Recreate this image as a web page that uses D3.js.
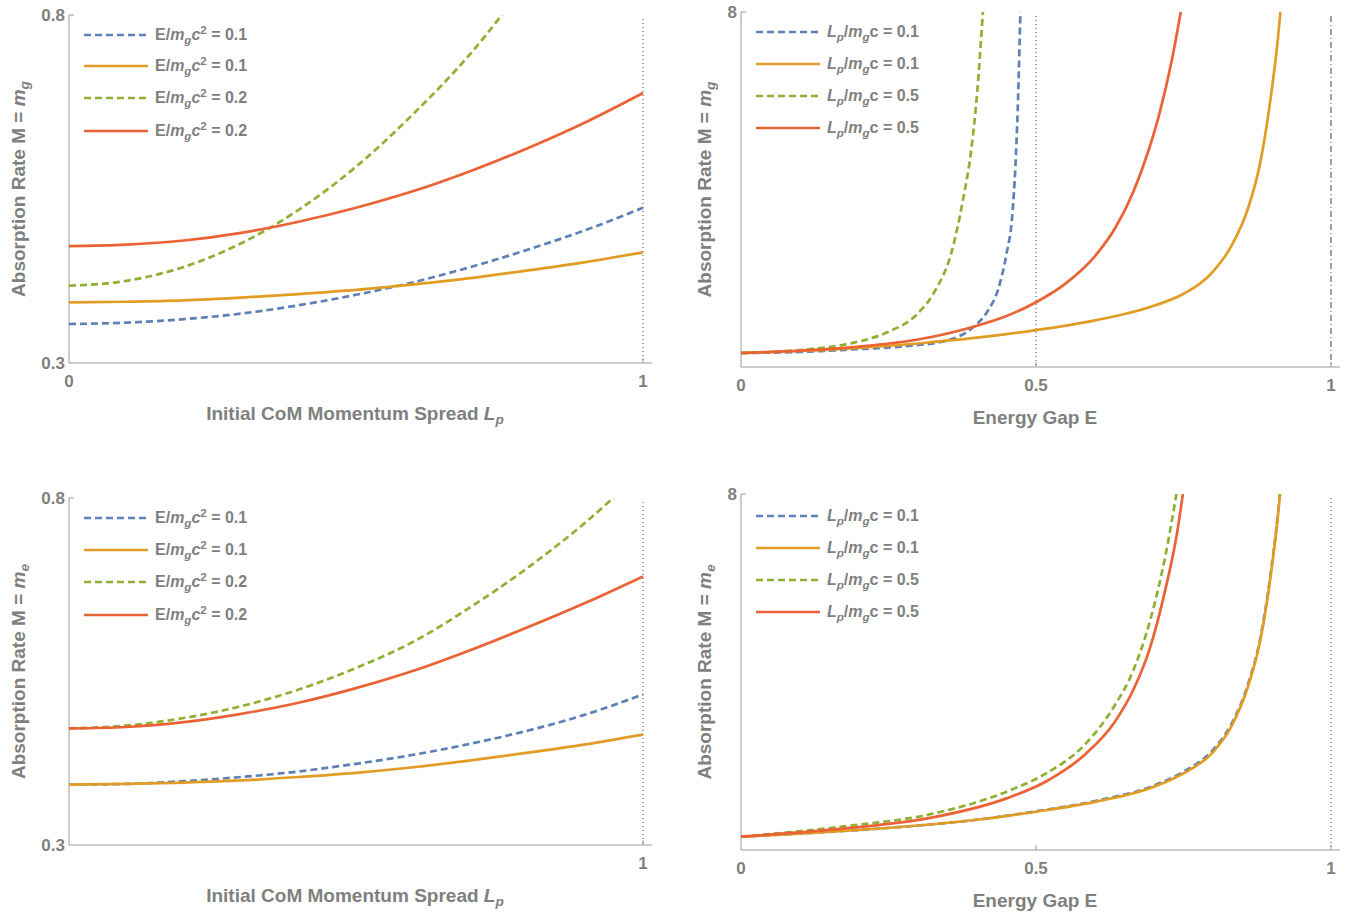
<!DOCTYPE html>
<html>
<head>
<meta charset="utf-8">
<script src="https://cdn.jsdelivr.net/npm/d3@7"></script>
<style>
  body { margin: 0; background: #fff; }
  svg text { font-family: "Liberation Sans", Arial, sans-serif; font-weight: bold; fill: #7f7f7f; }
  .axis-line { stroke: #9a9a9a; stroke-width: 1; fill: none; }
  .series { fill: none; stroke-width: 2.7; stroke-linecap: butt; }
</style>
</head>
<body>
<div id="graph"></div>
<script>
//
// Data
//

// left panels: x = initial CoM momentum spread L_p
var lpX = [0, 0.1, 0.2, 0.3, 0.4, 0.5, 0.6, 0.7, 0.8, 0.9, 1.0];

// top-left, M = m_g
var tlBlue   = [0.356, 0.358, 0.363, 0.371, 0.383, 0.398, 0.416, 0.438, 0.463, 0.491, 0.523];
var tlOrange = [0.387, 0.388, 0.390, 0.394, 0.399, 0.405, 0.413, 0.422, 0.433, 0.445, 0.459];
var tlGreen  = [0.411, 0.418, 0.438, 0.472, 0.520, 0.582, 0.658, 0.745, 0.850];
var tlRed    = [0.468, 0.470, 0.476, 0.487, 0.503, 0.523, 0.547, 0.576, 0.609, 0.646, 0.688];

// bottom-left, M = m_e
var blBlue   = [0.387, 0.388, 0.392, 0.398, 0.406, 0.417, 0.430, 0.446, 0.465, 0.488, 0.517];
var blOrange = [0.387, 0.388, 0.390, 0.393, 0.398, 0.404, 0.412, 0.422, 0.433, 0.445, 0.459];
var blGreen  = [0.468, 0.472, 0.483, 0.500, 0.524, 0.555, 0.593, 0.643, 0.700, 0.765, 0.840];
var blRed    = [0.468, 0.470, 0.477, 0.489, 0.505, 0.526, 0.551, 0.581, 0.614, 0.649, 0.687];

// top-right, M = m_g, x = energy gap E
var trBlueX   = [0, 0.1, 0.18, 0.28, 0.35, 0.39, 0.417, 0.437, 0.45, 0.46, 0.465, 0.469, 0.472, 0.475];
var trBlueY   = [0.315, 0.34, 0.39, 0.47, 0.60, 0.86, 1.24, 1.80, 2.55, 3.45, 4.5, 5.8, 7.2, 8.8];
var trOrangeX = [0, 0.1, 0.2, 0.3, 0.4, 0.5, 0.6, 0.7, 0.75, 0.8, 0.83, 0.86, 0.88, 0.895, 0.91, 0.92];
var trOrangeY = [0.315, 0.36, 0.43, 0.53, 0.66, 0.83, 1.05, 1.38, 1.65, 2.15, 2.7, 3.6, 4.6, 5.8, 7.4, 8.8];
var trGreenX  = [0, 0.114, 0.181, 0.249, 0.296, 0.329, 0.356, 0.376, 0.39, 0.40, 0.41];
var trGreenY  = [0.315, 0.40, 0.52, 0.79, 1.16, 1.72, 2.55, 3.75, 4.87, 6.14, 8.0];
var trRedX    = [0, 0.1, 0.2, 0.3, 0.4, 0.45, 0.5, 0.55, 0.6, 0.635, 0.665, 0.69, 0.71, 0.73, 0.748];
var trRedY    = [0.315, 0.37, 0.46, 0.62, 0.93, 1.15, 1.46, 1.88, 2.5, 3.15, 3.95, 4.85, 5.75, 6.9, 8.2];

// bottom-right, M = m_e
var brLowX    = [0, 0.1, 0.2, 0.3, 0.4, 0.5, 0.6, 0.7, 0.75, 0.8, 0.83, 0.86, 0.88, 0.895, 0.91, 0.92];
var brBlueY   = [0.30, 0.37, 0.45, 0.55, 0.68, 0.87, 1.10, 1.45, 1.76, 2.25, 2.8, 3.75, 4.75, 5.95, 7.55, 8.95];
var brOrangeY = [0.30, 0.37, 0.45, 0.55, 0.68, 0.86, 1.08, 1.42, 1.72, 2.2, 2.75, 3.7, 4.7, 5.9, 7.5, 8.9];
var brGreenX  = [0, 0.181, 0.316, 0.45, 0.517, 0.585, 0.632, 0.665, 0.692, 0.719, 0.738];
var brGreenY  = [0.30, 0.54, 0.79, 1.31, 1.72, 2.40, 3.22, 4.04, 5.09, 6.59, 8.0];
var brRedX    = [0, 0.181, 0.316, 0.45, 0.517, 0.585, 0.632, 0.665, 0.692, 0.719, 0.739, 0.749];
var brRedY    = [0.30, 0.49, 0.71, 1.16, 1.54, 2.17, 2.85, 3.6, 4.49, 5.84, 7.12, 8.0];

var legendE  = ['0.1', '0.1', '0.2', '0.2'];
var legendLp = ['0.1', '0.1', '0.5', '0.5'];

var colors = ['#5E81B5', '#E19C24', '#8FB032', '#EB6235'];
var dashes = ['7,4', null, '7,4', null];

//
// helpers
//
var zip = function (xs, ys)
{
    return ys.map(function (y, i) { return { x: xs[i], y: y }; });
};

// parts: [text, flags] with flags among 'i' (italic), 'sub', 'sup'
var rich = function (sel, parts)
{
    var shift = 0;
    parts.forEach(function (p)
    {
        var t = sel.append('tspan').text(p[0]);
        var want = 0;
        if (p[1].indexOf('sub') >= 0) { want = 4; t.attr('font-size', '0.72em'); }
        if (p[1].indexOf('sup') >= 0) { want = -6; t.attr('font-size', '0.72em'); }
        if (p[1].indexOf('i') >= 0) t.style('font-style', 'italic');
        if (want !== shift) t.attr('dy', want - shift);
        shift = want;
    });
};

var svg = d3.select('#graph').append('svg')
            .attr('width', 1350)
            .attr('height', 913);

var clipId = 0;

var drawPanel = function (p)
{
    var xScale = d3.scaleLinear().domain([0, 1]).range(p.xRange);
    var yScale = d3.scaleLinear().domain(p.yDomain).range(p.yRange);

    var g = svg.append('g');

    // dotted reference lines
    p.vlines.forEach(function (v)
    {
        g.append('line')
         .attr('x1', xScale(v.x)).attr('x2', xScale(v.x))
         .attr('y1', p.yRange[1] + 4).attr('y2', p.yRange[0])
         .attr('stroke', '#444')
         .attr('stroke-width', 1)
         .attr('stroke-dasharray', v.dash);
    });

    // axes
    g.append('line').attr('class', 'axis-line')
     .attr('x1', p.xRange[0]).attr('x2', p.xRange[1] + 9)
     .attr('y1', p.yRange[0]).attr('y2', p.yRange[0]);
    g.append('line').attr('class', 'axis-line')
     .attr('x1', p.xRange[0]).attr('x2', p.xRange[0])
     .attr('y1', p.yRange[0]).attr('y2', p.yRange[1]);
    g.append('line').attr('class', 'axis-line')
     .attr('x1', p.xRange[0]).attr('x2', p.xRange[0] + 5)
     .attr('y1', p.yRange[1]).attr('y2', p.yRange[1]);

    p.xTicks.forEach(function (t)
    {
        g.append('line').attr('class', 'axis-line')
         .attr('x1', xScale(t)).attr('x2', xScale(t))
         .attr('y1', p.yRange[0]).attr('y2', p.yRange[0] - 5);
    });

    p.xLabels.forEach(function (t)
    {
        g.append('text')
         .attr('x', xScale(t)).attr('y', p.yRange[0] + 24)
         .attr('text-anchor', 'middle')
         .style('font-size', '17px')
         .text(String(t));
    });

    p.yLabels.forEach(function (t)
    {
        g.append('text')
         .attr('x', p.xRange[0] - 4).attr('y', yScale(t) + 6)
         .attr('text-anchor', 'end')
         .style('font-size', '17px')
         .text(String(t));
    });

    // axis titles
    rich(g.append('text')
          .attr('x', (p.xRange[0] + p.xRange[1]) / 2 - 1)
          .attr('y', p.yRange[0] + 57)
          .attr('text-anchor', 'middle')
          .style('font-size', '19px'), p.xTitle);

    var cy = (p.yRange[0] + p.yRange[1]) / 2;
    rich(g.append('text')
          .attr('transform', 'translate(' + p.yTitleX + ',' + cy + ') rotate(-90)')
          .attr('text-anchor', 'middle')
          .style('font-size', '19px'), p.yTitle);

    // curves
    var id = 'clip' + (clipId++);
    svg.append('clipPath').attr('id', id)
       .append('rect')
       .attr('x', p.xRange[0]).attr('y', p.yRange[1])
       .attr('width', p.xRange[1] - p.xRange[0] + 10)
       .attr('height', p.yRange[0] - p.yRange[1]);

    var line = d3.line()
                 .x(function (d) { return xScale(d.x); })
                 .y(function (d) { return yScale(d.y); })
                 .curve(d3.curveMonotoneX);

    var cg = g.append('g').attr('clip-path', 'url(#' + id + ')');
    p.series.forEach(function (s, i)
    {
        cg.append('path')
          .datum(s)
          .attr('class', 'series')
          .attr('stroke', colors[i])
          .attr('stroke-dasharray', dashes[i])
          .attr('d', line);
    });

    // legend
    p.legend.forEach(function (lab, i)
    {
        var y = p.legendY[i];
        g.append('line')
         .attr('x1', p.xRange[0] + 15).attr('x2', p.xRange[0] + 79)
         .attr('y1', y).attr('y2', y)
         .attr('stroke', colors[i])
         .attr('stroke-width', 2.7)
         .attr('stroke-dasharray', dashes[i]);
        rich(g.append('text')
              .attr('x', p.xRange[0] + 86).attr('y', y + 5)
              .style('font-size', '16px'), lab);
    });
};

var eLegend = function (v)
{
    return [['E/', ''], ['m', 'i'], ['g', 'i sub'], ['c', 'i'], ['2', 'sup'], [' = ' + v, '']];
};
var lpLegend = function (v)
{
    return [['L', 'i'], ['p', 'i sub'], ['/', ''], ['m', 'i'], ['g', 'i sub'], ['c = ' + v, '']];
};
var lpTitle = [['Initial CoM Momentum Spread ', ''], ['L', 'i'], ['p', 'i sub']];
var eTitle  = [['Energy Gap E', '']];
var yTitle  = function (s) { return [['Absorption Rate M = ', ''], ['m', 'i'], [s, 'i sub']]; };

drawPanel({
    xRange: [69, 643], yRange: [363, 15], yDomain: [0.3, 0.8], yTitleX: 25,
    xTicks: [1], xLabels: [0, 1], yLabels: [0.8, 0.3],
    vlines: [{ x: 1, dash: '1,3' }],
    xTitle: lpTitle, yTitle: yTitle('g'),
    series: [zip(lpX, tlBlue), zip(lpX, tlOrange), zip(lpX, tlGreen), zip(lpX, tlRed)],
    legend: legendE.map(eLegend), legendY: [35, 66, 98, 131]
});

drawPanel({
    xRange: [741, 1331], yRange: [367, 12], yDomain: [0, 8], yTitleX: 711,
    xTicks: [0.5, 1], xLabels: [0, 0.5, 1], yLabels: [8],
    vlines: [{ x: 0.5, dash: '1,3' }, { x: 1, dash: '6,3,1,3' }],
    xTitle: eTitle, yTitle: yTitle('g'),
    series: [zip(trBlueX, trBlueY), zip(trOrangeX, trOrangeY), zip(trGreenX, trGreenY), zip(trRedX, trRedY)],
    legend: legendLp.map(lpLegend), legendY: [32, 64, 96, 128]
});

drawPanel({
    xRange: [69, 643], yRange: [845, 498], yDomain: [0.3, 0.8], yTitleX: 25,
    xTicks: [1], xLabels: [1], yLabels: [0.8, 0.3],
    vlines: [{ x: 1, dash: '1,3' }],
    xTitle: lpTitle, yTitle: yTitle('e'),
    series: [zip(lpX, blBlue), zip(lpX, blOrange), zip(lpX, blGreen), zip(lpX, blRed)],
    legend: legendE.map(eLegend), legendY: [518, 550, 582, 615]
});

drawPanel({
    xRange: [741, 1331], yRange: [850, 494], yDomain: [0, 8], yTitleX: 711,
    xTicks: [0.5, 1], xLabels: [0, 0.5, 1], yLabels: [8],
    vlines: [{ x: 1, dash: '1,3' }],
    xTitle: eTitle, yTitle: yTitle('e'),
    series: [zip(brLowX, brBlueY), zip(brLowX, brOrangeY), zip(brGreenX, brGreenY), zip(brRedX, brRedY)],
    legend: legendLp.map(lpLegend), legendY: [516, 548, 580, 612]
});
</script>
</body>
</html>
